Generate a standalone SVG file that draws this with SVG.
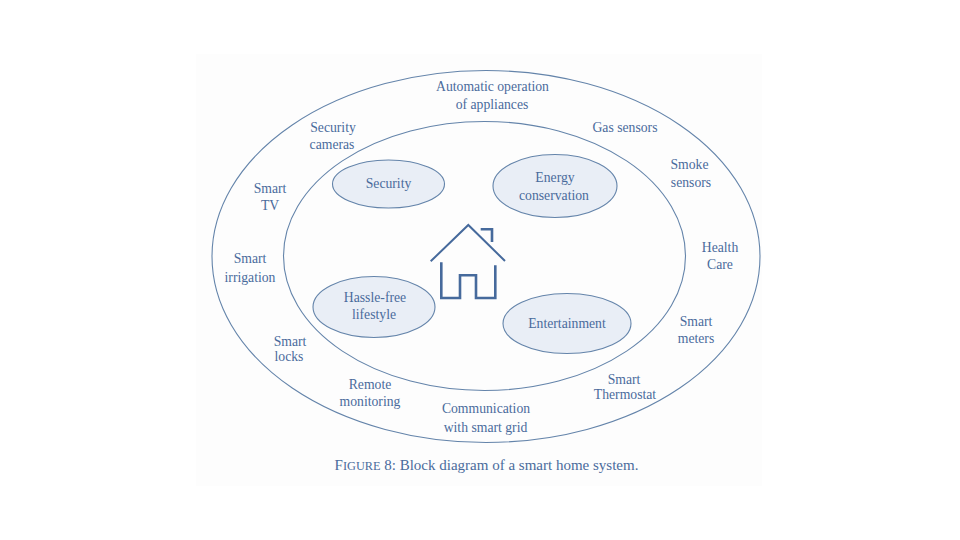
<svg xmlns="http://www.w3.org/2000/svg" width="960" height="540" viewBox="0 0 960 540">
<style>
text{font-family:"Liberation Serif","DejaVu Serif",serif;font-size:13.700px;fill:#4a6b9c;text-anchor:middle}
.ring{fill:none;stroke:#6484aa;stroke-width:1.100}
.blob{fill:#e9eef6;stroke:#6484aa;stroke-width:1.100}
.roof{fill:none;stroke:#466a9c;stroke-width:2}
.house{fill:none;stroke:#466a9c;stroke-width:2.600}
</style>
<rect width="960" height="540" fill="#fff"/>
<rect x="196" y="54" width="566" height="432" fill="#fdfdfd"/>
<g id="connectors"></g>
<g id="outer-ring"><ellipse class="ring" cx="486" cy="256.500" rx="274" ry="186"/></g>
<g id="inner-ring"><ellipse class="ring" cx="484.500" cy="256" rx="201" ry="134.500"/></g>
<g id="security"><ellipse class="blob" cx="388.500" cy="184" rx="56" ry="24"/><text x="388.500" y="188">Security</text></g>
<g id="energy"><ellipse class="blob" cx="555" cy="186" rx="62" ry="31.500"/><text x="555" y="181.500">Energy</text><text x="554" y="199.500">conservation</text></g>
<g id="hassle"><ellipse class="blob" cx="374" cy="307" rx="61" ry="30.500"/><text x="375" y="302">Hassle-free</text><text x="374" y="318.500">lifestyle</text></g>
<g id="entertainment"><ellipse class="blob" cx="567" cy="323.500" rx="64" ry="30"/><text x="567" y="327.500">Entertainment</text></g>
<g id="house"><path class="roof" d="M430.700 261.300L468.300 225L505 261"/><path class="house" d="M480.700 229.300H492V242"/><path class="house" d="M441.300 262.300V298H460V275.300H476V298H495.300V265.300"/></g>
<g id="l-auto"><text x="492.500" y="90.700">Automatic operation</text><text x="492" y="109">of appliances</text></g>
<g id="l-gas"><text x="625" y="131.700">Gas sensors</text></g>
<g id="l-smoke"><text x="689.500" y="169">Smoke</text><text x="691" y="187">sensors</text></g>
<g id="l-health"><text x="720" y="252">Health</text><text x="720" y="268.500">Care</text></g>
<g id="l-meters"><text x="696" y="326">Smart</text><text x="696" y="342.500">meters</text></g>
<g id="l-thermo"><text x="624" y="384">Smart</text><text x="625" y="399">Thermostat</text></g>
<g id="l-comm"><text x="486" y="412.500">Communication</text><text x="485.500" y="431.500">with smart grid</text></g>
<g id="l-remote"><text x="370" y="388.500">Remote</text><text x="370" y="405.500">monitoring</text></g>
<g id="l-locks"><text x="290" y="346">Smart</text><text x="289" y="361">locks</text></g>
<g id="l-irrigation"><text x="250" y="263">Smart</text><text x="250" y="282">irrigation</text></g>
<g id="l-tv"><text x="270" y="192.500">Smart</text><text x="270" y="210">TV</text></g>
<g id="l-cameras"><text x="333" y="131.500">Security</text><text x="332" y="148.500">cameras</text></g>
<g id="caption"><text x="486.500" y="470" style="font-size:15px">F<tspan style="font-size:12.300px">IGURE</tspan> 8: Block diagram of a smart home system.</text></g>
</svg>
